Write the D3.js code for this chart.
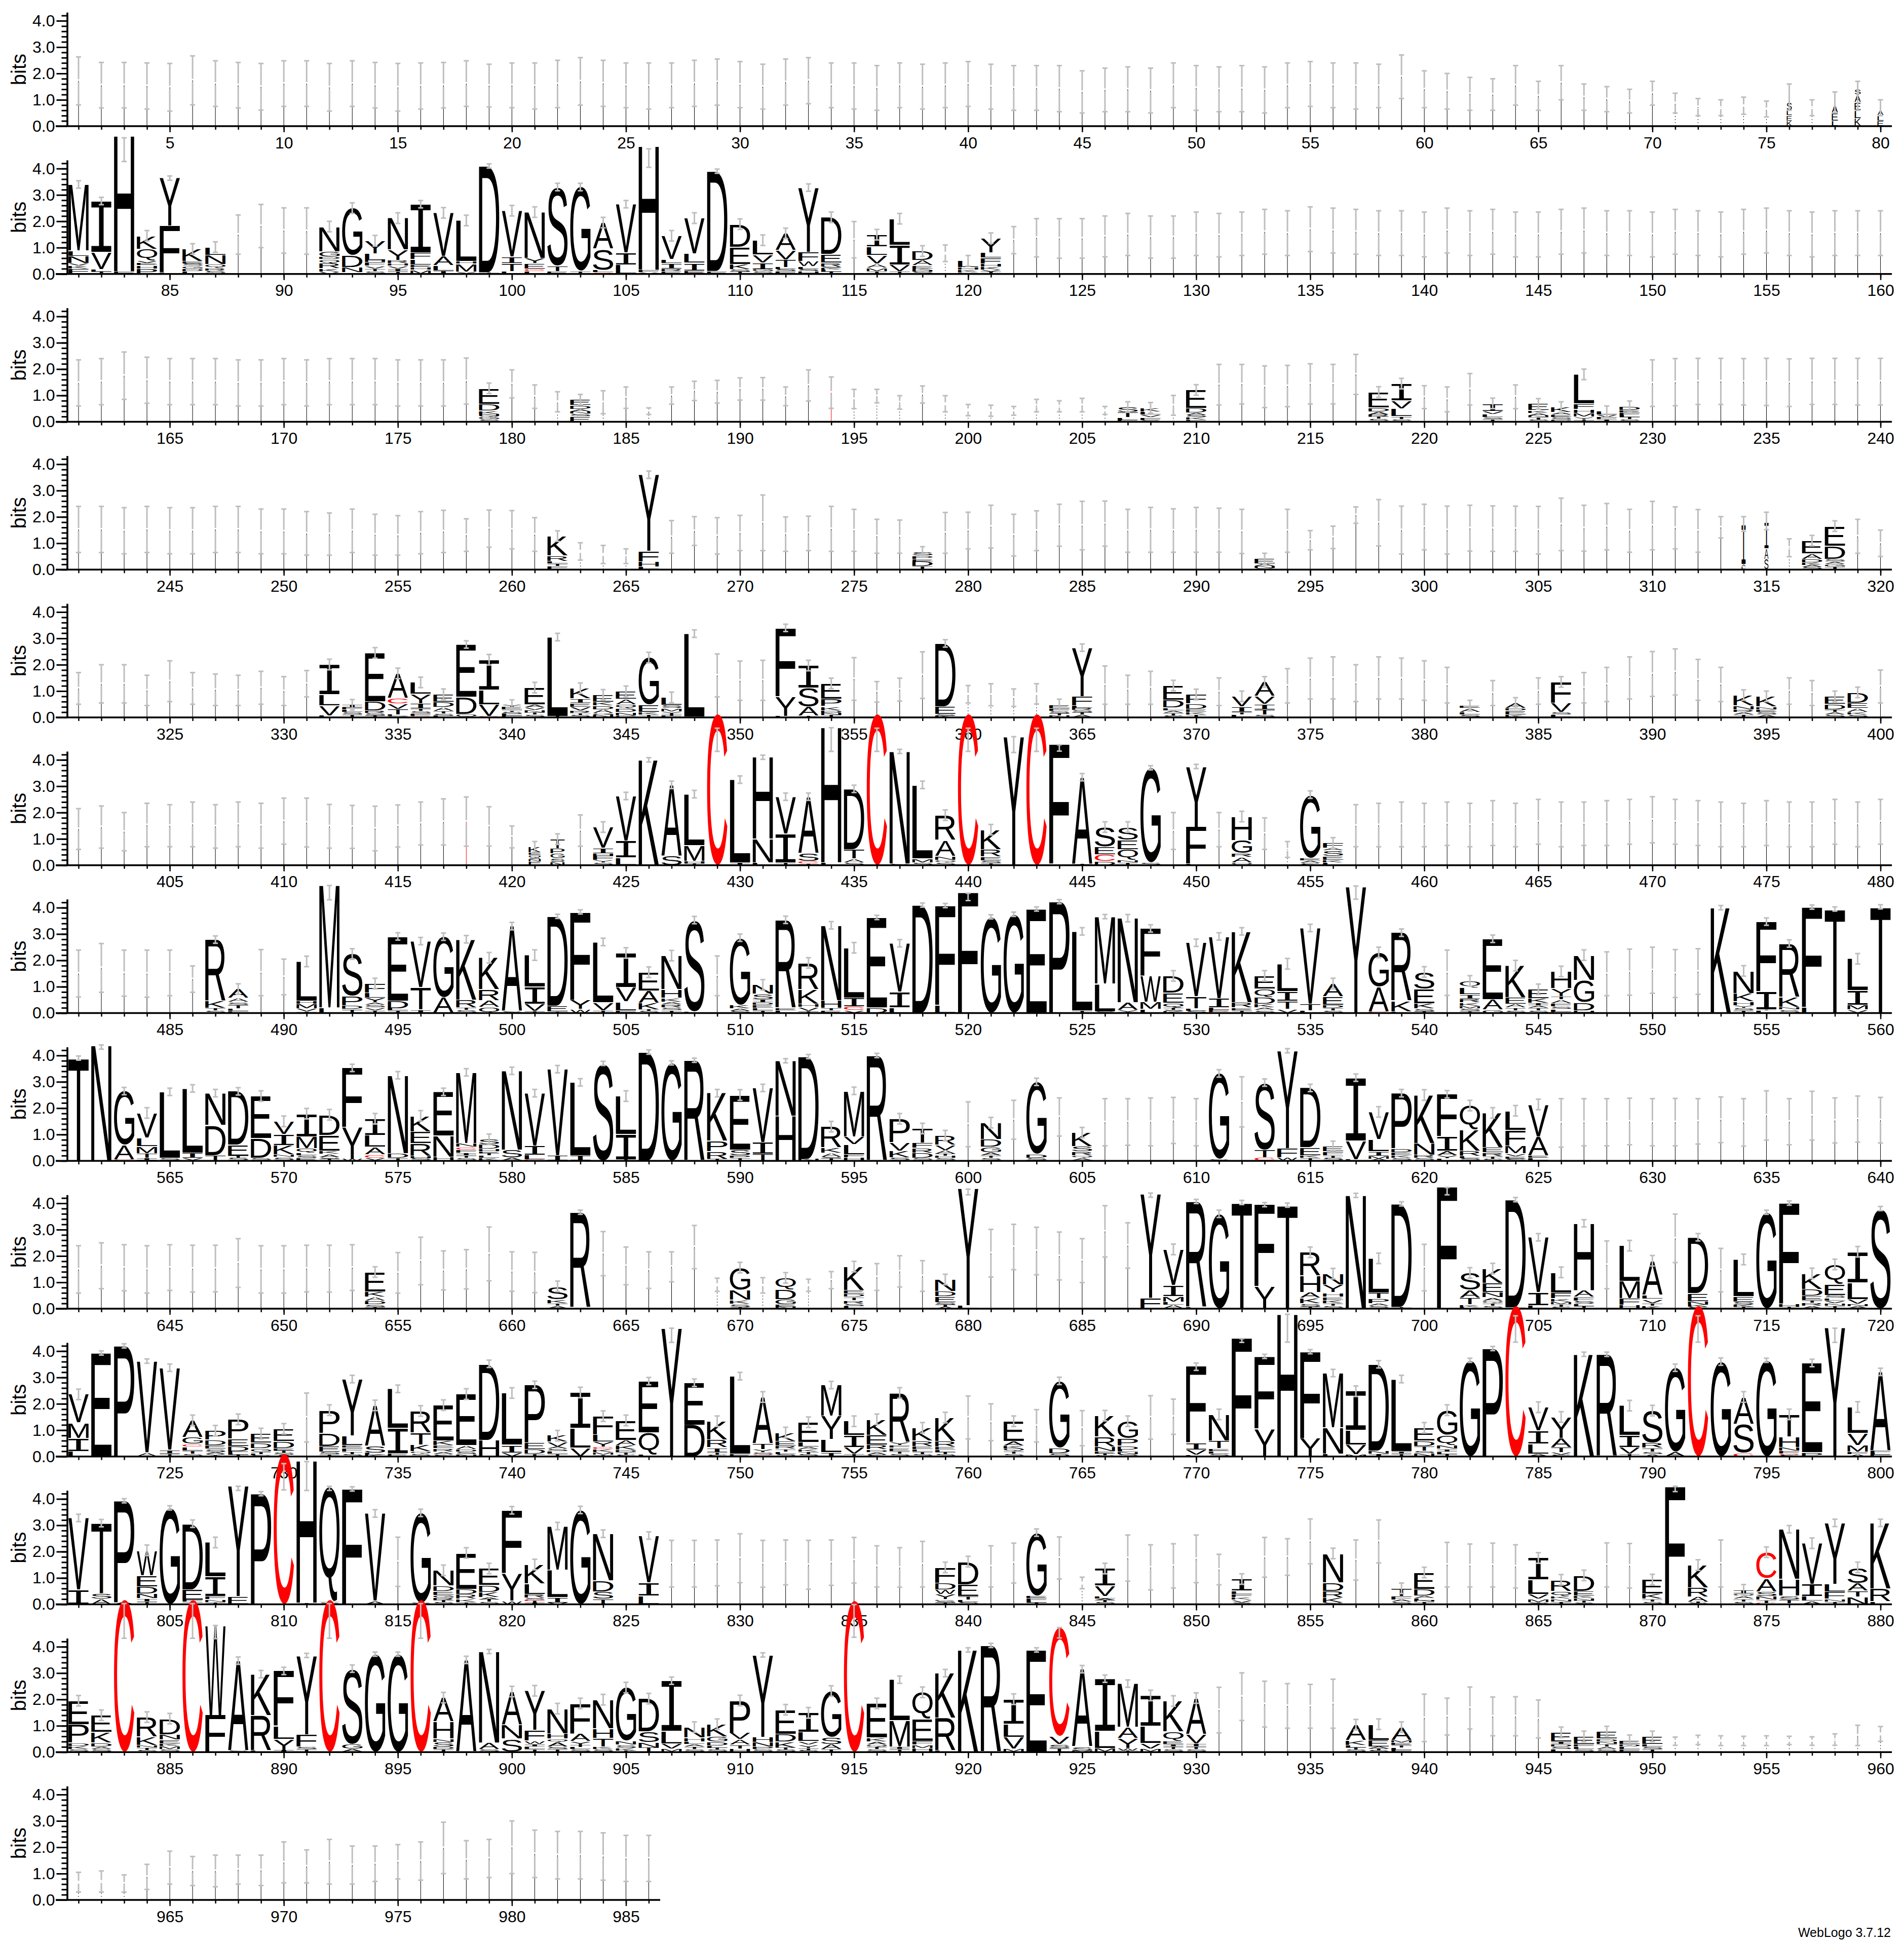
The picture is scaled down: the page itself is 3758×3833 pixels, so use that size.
<!DOCTYPE html>
<html><head><meta charset="utf-8">
<style>html,body{margin:0;padding:0;background:#fff}svg{display:block}</style>
<script src="https://cdn.jsdelivr.net/npm/d3@7/dist/d3.min.js"></script>
</head><body><div id="chart"></div>
<script>
// Row layout: first position of every row of the logo
const rowStarts=[1,81,161,241,321,401,481,561,641,721,801,881,961];
const lastPosition=986;
const yTicksMajor=[0,1,2,3,4];
const yTicksMinor=[0,.2,.4,.6,.8,1,1.2,1.4,1.6,1.8,2,2.2,2.4,2.6,2.8,3,3.2,3.4,3.6,3.8,4,4.2];
const yMaxBits=4.32;
const footer="WebLogo 3.7.12";
const redStems=[418,194];

// Error bars of the (almost) empty columns: position:top:bottom, in bits
const barsRow1="1:2.63:.81 2:2.42:.69 3:2.42:.69 4:2.4:.65 5:2.38:.57 6:2.67:.81 7:2.48:.75 8:2.42:.69 9:2.38:.61 10:2.48:.75 11:2.48:.75 12:2.38:.57 13:2.48:.75 14:2.42:.69 15:2.38:.57 16:2.4:.65 17:2.42:.69 18:2.48:.75 19:2.35:.73 20:2.4:.7 21:2.4:.65 22:2.5:.7 23:2.6:.8 24:2.5:.75 25:2.4:.7 26:2.4:.65 27:2.4:.7 28:2.5:.75 29:2.55:.8 30:2.45:.7 31:2.35:.65 32:2.55:.8 33:2.6:.85 34:2.4:.7 35:2.4:.65 36:2.3:.6 37:2.4:.7 38:2.35:.65 39:2.4:.7 40:2.45:.75 41:2.35:.65 42:2.3:.6 43:2.3:.6 44:2.3:.55 45:2.1:.5 46:2.2:.55 47:2.25:.55 48:2.2:.5 49:2.4:.7 50:2.3:.6 51:2.25:.55 52:2.3:.55 53:2.25:.5 54:2.4:.7 55:2.45:.75 56:2.4:.7 57:2.4:.65 58:2.35:.7 59:2.7:1.05 60:2.1:.7 61:2:.65 62:1.85:.6 63:1.8:.6 64:2.3:.8 65:1.7:.6 66:2.3:1 67:1.6:.6 68:1.5:.55 69:1.4:.5 70:1.7:.8 71:1.25:.5 72:1.05:.4 73:1:.4 74:1.1:.45 75:.95:.35 77:1:.4";
const barsRow2="88:2.24:.75 89:2.64:1 90:2.51:.79 91:2.51:.75 115:1.99:.61 119:1.1:.47 122:1.8:.77 123:2.1:.65 124:2.1:.6 125:2.1:.6 126:2.2:.65 127:2.3:.7 128:2.2:.6 129:2.2:.6 130:2.35:.7 131:2.3:.65 132:2.35:.7 133:2.45:.75 134:2.4:.7 135:2.55:.85 136:2.5:.8 137:2.45:.75 138:2.4:.7 139:2.4:.7 140:2.35:.65 141:2.5:.8 142:2.4:.7 143:2.45:.75 144:2.35:.65 145:2.35:.65 146:2.45:.75 147:2.5:.8 148:2.4:.7 149:2.4:.7 150:2.35:.65 151:2.45:.75 152:2.4:.7 153:2.35:.65 154:2.45:.75 155:2.5:.8 156:2.4:.7 157:2.35:.65 158:2.4:.7 159:2.4:.7 160:2.4:.7";
const barsRow3="161:2.35:.6 162:2.4:.65 163:2.65:.85 164:2.45:.7 165:2.4:.65 166:2.4:.65 167:2.4:.65 168:2.35:.6 169:2.35:.6 170:2.4:.65 171:2.35:.6 172:2.4:.65 173:2.4:.65 174:2.4:.65 175:2.35:.6 176:2.35:.6 177:2.35:.6 178:2.42:.67 180:1.97:.91 181:1.4:.51 182:1.14:.38 184:1.18:.31 185:1.32:.51 186:.53:.28 187:1.32:.67 188:1.54:.81 189:1.57:.71 190:1.67:.82 191:1.68:.82 192:1.32:.61 193:1.97:.79 194:1.7:.51 195:1.23:.5 196:1.23:.72 197:.99:.48 198:1.36:.71 199:.99:.38 200:.66:.23 201:.63:.21 202:.58:.25 203:.85:.38 204:.8:.38 205:.89:.38 206:.58:.28 209:1:.25 211:2.18:.64 212:2.18:.68 213:2.12:.54 214:2.14:.57 215:2.2:.68 216:2.18:.68 217:2.56:1.04 220:1.37:.5 221:1.32:.38 222:1.83:.64 224:1.4:.5 230:2.35:.58 231:2.4:.61 232:2.41:.66 233:2.41:.66 234:2.4:.64 235:2.41:.62 236:2.39:.58 237:2.41:.66 238:2.41:.66 239:2.41:.64 240:2.41:.64";
const barsRow4="241:2.4:.65 242:2.4:.65 243:2.35:.6 244:2.4:.65 245:2.35:.6 246:2.35:.6 247:2.4:.65 248:2.4:.65 249:2.3:.6 250:2.3:.6 251:2.2:.55 252:2.15:.55 253:2.3:.65 254:2.1:.55 255:2.05:.55 256:2.2:.6 257:2.25:.65 258:1.93:.69 259:2.26:.85 260:2.24:.79 261:1.97:.69 263:1.02:.36 264:.92:.23 265:.79:.23 267:1.86:.62 268:2.01:.92 269:1.97:.59 270:2.06:.72 271:2.83:.72 272:2:.69 273:2.03:.72 274:2.4:.69 275:2.29:.69 276:1.91:.62 277:1.88:.62 279:2.17:.62 280:2.18:.79 281:2.44:.82 282:2.1:.52 283:2.23:.72 284:2.48:.89 285:2.59:.75 286:2.6:.89 287:2.29:.66 288:2.36:.66 289:2.31:.66 290:2.36:.66 291:2.33:.66 292:2.29:.61 294:2.29:.66 295:1.48:.75 296:1.65:.8 297:2.38:1.76 298:2.66:.9 299:2.41:.59 300:2.48:.75 301:2.41:.59 302:2.44:.7 303:2.42:.69 304:2.41:.69 305:2.4:.59 306:2.71:.72 307:2.44:.7 308:2.51:.75 309:2.29:.66 310:2.59:.75 311:2.38:.79 312:2.28:.66 313:2.01:1.2 316:1.17:.49 319:1.91:.62 320:1.5:.5";
const barsRow5="321:1.7:.5 322:2:.55 323:2:.55 324:1.6:.45 325:2.15:.6 326:1.7:.5 327:1.65:.45 328:1.6:.45 329:1.75:.5 330:1.55:.45 331:1.78:.78 349:2.41:.78 350:2.14:.65 351:2.17:.65 355:2.27:.65 356:1.36:.58 357:1.49:.62 358:2.49:.72 360:1.21:.55 361:1.28:.44 362:1.08:.42 363:1.28:.51 366:1.95:.5 367:1.6:.5 368:1.75:.5 371:1.5:.45 374:1.85:.55 375:2.25:.7 376:2.3:.7 377:2:.6 378:2.3:.7 379:2.25:.7 380:2.15:.65 381:1.9:.55 383:1.4:.45 385:1.5:.5 387:1.7:.55 388:1.9:.6 389:2.3:.7 390:2.5:.8 391:2.6:.85 392:2.2:.65 393:1.9:.6 396:1.5:.5 397:1.4:.45 400:1.8:.55";
const barsRow6="401:2.15:.6 402:2.25:.65 403:2:.55 404:2.35:.7 405:2.3:.7 406:2.4:.7 407:2.3:.65 408:2.4:.7 409:2.35:.65 410:2.55:.8 411:2.55:.69 412:2.31:.65 413:2.27:.64 414:2.24:.55 415:2.29:.69 416:2.4:.77 417:2.52:.77 418:2.59:.72 419:2.22:.73 420:1.49:.66 423:1.91:.72 449:2:.6 451:2:.7 453:1.8:.6 454:.9:.3 457:2.3:.7 458:2.35:.7 459:2.4:.7 460:2.35:.7 461:2.4:.75 462:2.35:.7 463:2.45:.75 464:2.35:.7 465:2.5:.8 466:2.4:.7 467:2.4:.75 468:2.45:.75 469:2.5:.8 470:2.6:.85 471:2.5:.8 472:2.45:.75 473:2.4:.7 474:2.35:.7 475:2.45:.75 476:2.4:.7 477:2.4:.7 478:2.5:.8 479:2.4:.7 480:2.5:.8";
const barsRow7="481:2.39:.61 482:2.64:.79 483:2.39:.64 484:2.39:.6 485:2.39:.66 486:1.79:.79 489:2.41:.66 490:2.05:.69 509:2.17:.66 541:2.39:.67 548:2.32:.66 549:2.43:.68 550:2.5:.75 551:2.41:.59 552:2.44:.71";
const barsRow8="600:2.24:.54 602:2.3:.82 604:2.39:.94 606:2.36:.57 607:2.36:.59 608:2.39:.57 609:2.41:.66 610:2.36:.57 612:3.19:1.29 626:2.36:.52 627:2.36:.57 628:2.36:.57 629:2.38:.61 630:2.36:.57 631:2.37:.57 632:2.36:.64 633:2.43:.69 634:2.36:.56 635:2.66:.79 636:2.36:.61 637:2.64:.79 638:2.39:.68 639:2.46:.71 640:2.41:.68";
const barsRow9="641:2.39:.59 642:2.5:.76 643:2.43:.68 644:2.39:.59 645:2.43:.69 646:2.41:.63 647:2.41:.64 648:2.66:.81 649:2.39:.59 650:2.39:.59 651:2.41:.64 652:2.41:.63 653:2.43:.69 655:2.13:.59 656:2.71:.91 657:2.19:.71 658:2.24:.75 659:3.1:1.06 660:2.16:.66 661:2.14:.61 664:2.93:1.25 665:2.34:.91 666:2.16:.77 667:2.16:1.02 668:3.16:1.52 669:1.16:.66 671:1.18:.59 673:1.12:.66 674:1.41:.76 676:1.71:.69 677:2.01:.82 678:1.82:.66 681:3.01:1.2 682:3.2:1.48 683:3.09:1.29 684:2.91:1.09 685:2.66:.99 686:3.91:1.96 687:3.26:1.54 700:2.44:.68 708:2.57:.76 711:3.59:1.75 713:2.29:.64";
const barsRow10="731:2.41:.55 760:2.3:.67 761:2:.6 763:1.78:.55 765:1.74:.41 768:2.31:.66 769:2.18:.84";
const barsRow11="815:2.55:.68 827:2.43:.66 828:2.43:.66 829:2.44:.7 830:2.68:.82 831:2.43:.65 832:2.44:.74 833:2.43:.57 834:2.44:.72 835:2.54:.81 836:2.22:.66 837:2.15:.65 838:2.39:.66 841:2.22:.66 842:2.32:.81 844:2.56:.96 845:1.03:.59 847:2.63:.88 848:2.26:.55 849:2.3:.62 850:2.63:.82 851:1.9:.74 853:2.54:1.03 854:2.49:1.1 855:3.24:1.54 857:2.44:.92 858:3.2:1.57 861:2.35:.66 862:2.29:.66 863:2.32:.66 864:2.26:.62 868:2.33:.66 869:2.31:.62 873:2.44:.66";
const barsRow12="931:2.46:.73 932:3.01:1.2 933:2.69:.95 934:2.6:.91 935:2.57:.91 936:2.77:.91 940:2.2:.4 941:2.05:.65 942:2.47:.88 943:2.09:.62 944:2.1:.62 945:1.98:.54 951:.57:.26 952:.64:.29 953:.62:.25 954:.6:.25 955:.62:.25 956:.6:.29 957:.58:.26 958:.69:.26 959:1.02:.25 960:.97:.41";
const barsRow13="961:1.05:.3 962:1.1:.3 963:.95:.3 964:1.35:.4 965:1.85:.6 966:1.65:.55 967:1.7:.5 968:1.7:.6 969:1.7:.55 970:2.2:.65 971:1.9:.65 972:2.3:.6 973:2.05:.6 974:2.05:.7 975:2.1:.8 976:2.2:.75 977:2.95:1 978:2.25:.8 979:2.3:.85 980:3:1 981:2.65:.85 982:2.6:.8 983:2.6:.8 984:2.55:.75 985:2.45:.7 986:2.45:.7";

// Letter stacks, bottom to top: position, letter+bits, optional w(width factor), optional ~errCentre,errHalf
const stacksRow1=["76 K.2 E.2 L.2 S.3 w.25 ~1.1,.5","78 L.2 E.3 A.3 w.3 ~.9,.4","79 K.3 L.3 E.3 A.3 S.2 w.3 ~1.15,.55","80 E.2 L.2 A.2 w.3 ~.7,.3"];
const stacksRow2=["81 F.2 K.12 V.08 N.28 L.2 M2.52","82 T.09 L.08 V.65 I1.95","83 F.09 H5.15 ~4.72,.45","84 P.2 H.12 E.1 V.08 Q.45 K.5","85 L.05 F1.77 Y1.82","86 L.1 D.1 G.1 S.1 E.08 K.47","87 S.12 R.1 Q.15 N.35 L.3","92 V.08 K.12 R.2 Q.15 D.1 G.2 N.95","93 I.05 N.2 D.45 G1.8","94 S.1 T.1 V.1 F.15 H.06 L.25 Y.5","95 T.1 I.1 V.1 H.1 R.12 Y.4 N1.2","96 M.15 H.1 E.1 L.2 F.25 I1.85","97 I.12 L.2 A.35 V1.65","98 Y.08 M.3 H.1 L1.55","99 T.05 D4.05","100 L.1 T.3 I.25 V1.75","101 L.1 C.1 E.2 Y.2 N1.75","102 E.1 T.2 S3","103 T.1 G3.2","104 C.05 L.1 S.8 A1","105 L.35 I.45 V1.85","106 Y.05 F.1 H4.7 ~4.4,.35","107 E.1 R.1 I.2 L.15 V.9","108 C.04 E.08 I.3 L.35 V1.35","109 E.1 D3.8","110 T.1 S.07 K.2 E.65 D.87","111 S.1 G.08 I.25 V.3 L.55","112 F.1 S.08 L.06 T.3 V.35 A.65","113 H.1 S.08 L.1 W.2 F.35 Y2.45","114 T.1 L.07 K.05 S.05 R.15 E.33 D1.4","116 T.1 M.13 A.15 V.33 L.33 I.45","117 T.1 V.25 I.75 L1","118 S.1 H.05 K.05 E.12 A.2 D.35","120 F.05 K.1 H.1 L.25","121 T.1 V.05 K.12 H.12 F.22 L.2 Y.55"];
const stacksRow3=["179 S.08 G.1 Q.06 N.05 K.13 D.25 E.6","183 E.2 S.1 N.1 A.08 D.14 E.22","207 E.06 L.1 T.2 S.2","208 S.06 F.1 V.1 L.12 K.15","210 F.08 K.08 S.1 A.08 D.17 E.7","218 S.12 T.08 R.06 A.12 D.15 E.6","219 S.1 T.1 L.3 V.3 I.65","223 T.1 S.06 L.12 V.12 I.3","225 S.08 T.1 N.05 A.1 K.1 E.25","226 D.08 S.08 E.1 A.1 K.2","227 T.08 Y.1 M.15 H.15 F.2 L1.12","228 I.1 F.06 V.1 L.14","229 S.1 T.08 L.08 F.08 E.1 D.15"];
const stacksRow4=["262 F.12 T.1 L.1 R.2 K.75","266 L.1 H.2 F.4 Y2.9","278 T.12 D.2 E.08 P.12 S.15","293 S.06 N.06 A.1 E.2","314 L.1 A.1 I1.5 w.2 ~1.73,.28","315 S.4 A.4 I1 w.2 ~1.85,.33","317 S.1 A.08 K.07 D.15 A.2 E.5","318 T.1 G.1 A.1 S.1 D.5 E.75"];
const stacksRow5=["332 L.06 V.38 L.42 I1.15","333 T.1 S.1 L.1 F.06 I.12","334 T.08 S.07 R.1 D.35 E1.85","335 G.05 L.05 T.22 V.2 C.2 A.95","336 C.05 F.08 S.1 T.1 I.2 Y.35 L.45","337 L.06 S.07 T.1 A.15 D.2 E.3","338 Q.12 D.65 E2","339 C.04 V.45 L.55 I1.15","340 F.07 L.07 S.07 T.08 E.12 Y.06","341 S.1 T.1 N.08 V.08 A.12 E.65","342 T.05 L3","343 S.1 T.05 R.1 V.14 E.15 I.17 K.4","344 N.1 G.05 A.14 D.15 K.15 E.27","345 G.07 N.13 D.14 Q.15 A.2 E.3","346 T.1 K.1 E.27 G1.8","347 F.06 T.06 Y.1 M.12 S.12 L.3","348 I.03 L3.15","352 L.05 Y.75 F2.6","353 T.05 A.35 S.72 I.85","354 T.1 N.06 D.1 K.16 P.27 E.6","359 K.06 S.05 E.3 D2.4","364 N.08 T.06 S.1 F.1 E.15","365 A.1 T.1 S.08 R.07 L.1 F.35 Y1.85","369 S.08 T.08 A.1 L.1 D.3 E.55","370 T.1 K.1 E.12 D.2 F.35","372 L.1 T.1 I.2 V.4","373 S.1 T.2 I.2 V.3 A.55","382 S.1 L.1 A.15 E.1","384 K.1 E.15 D.1 A.2","386 L.1 S.1 V.35 F.8","394 T.1 A.1 R.1 N.15 K.4","395 A.1 S.1 E.1 N.1 K.4","398 S.1 A.1 T.1 D.2 E.3","399 S.1 K.1 A.15 E.2 D.4"];
const stacksRow6=["421 E.15 N.08 S.06 Q.09 E.1 K.22 w.6","422 N.12 S.15 G.17 P.2 T.35 w.7","424 S.1 Y.1 F.17 H.08 I.2 V.8","425 L.28 I.65 V1.7","426 K4","427 S.35 A2.7","428 T.08 H.07 M.6 L1.95","429 C5.75 ~4.76,.44","430 I.1 L3.15","431 L.1 N.9 H3.1","432 T.1 I1.1 V1.4","433 T.05 C.1 S.3 A2.15","434 L.1 H5.13 ~4.77,.45","435 S.1 A.15 T.35 D2.3","436 C5.75 ~4.76,.44","437 S.05 N4.27","438 S.1 M.15 L2.8","439 S.1 Q.1 N.15 A.6 R.95","440 C5.75 ~4.76,.44","441 T.08 S.1 E.15 R.27 K.75","442 Y4.88 ~4.58,.3","443 C5.75 ~4.76,.44","444 I.05 F4.55 ~4.45,.12","445 T.04 A3.3","446 D.15 C.25 E.3 S.75","447 T.1 N.1 Q.4 E.35 S.5","448 S.1 G3.6","450 L.05 F1.4 Y2.3","452 Q.1 A.2 R.15 G.5 H.9","455 S.08 A.1 E.1 G2.4","456 L.1 K.1 E.15 S.2 A.1 F.2"];
const stacksRow7=["487 S.1 T.08 K.27 R2.34","488 F.08 L.08 T.15 S.1 A.15 A.35","491 T.05 V.12 M.17 H.12 L1.5","492 L.2 M4.65 ~4.57,.27","493 T.14 D.15 P.35 S1.6","494 T.1 V.1 S.1 A.1 Y.17 L.2 F.35","495 T.1 L.06 D.3 E2.45","496 I.13 T.85 V1.75","497 A.6 G2.3","498 S.12 T.08 R.3 K2.3","499 Q.22 A.25 R.43 K1.2","500 S.05 A3.25","501 T.08 V.27 I.65 L1.2","502 T.05 E.22 D3.4","503 W.15 Y.35 F3.34","504 T.1 V.3 L2.3","505 F.1 L.33 V.55 I1.3","506 S.08 T.05 K.24 A.48 E.7","507 T.1 S.1 R.12 A.1 K.15 H.33 N1.28","508 L.05 S3.48","510 S.08 A.08 K.15 G2.55","511 T.1 L.08 E.12 D.1 I.12 S.2 N.35","512 L.1 E.08 R3.36","513 T.08 V.14 H.13 K.55 R1","514 E.1 T.08 H.3 N2.85","515 V.1 C.15 I.33 L1.9","516 D.2 E3.43","517 L.2 I.6 V1.85","518 D4.1","519 L.3 F3.78","520 F4.58 ~4.41,.14","521 G3.65","522 G3.75","523 E3.95","524 P4.23","525 T.1 L3","526 S.06 L1.05 M2.55","527 T.05 V.05 A.3 N3.2","528 L.14 M.27 W1 F1.8","529 K.06 S.06 T.08 Q.18 E.38 D.65","530 S.07 L.1 T.45 V2.05","531 C.05 F.08 L.08 I.35 V2.35","532 T.1 E.1 R.2 K2.7","533 S.1 A.1 K.14 D.25 Q.32 E.5","534 V.15 T.3 I.37 L1.05","535 L.1 T.25 V2.88","536 S.1 T.08 D.12 E.32 A.5","537 Y4.8 ~4.57,.25","538 C.05 A.95 G1.3","539 L.05 K.4 R2.6","540 T.06 S.1 K.2 E.55 S.65","542 T.07 S.1 M.1 K.12 R.15 I.17 L.25 Q.26","543 G.12 A.4 E2.3","544 S.1 T.1 A.15 E.25 K1.2","545 S.1 T.08 A.1 I.1 K.17 E.35","546 C.04 L.1 S.1 F.12 A.15 T.12 Y.3 H.65","547 H.1 D.3 G.85 N.95","553 K4","554 T.1 S.08 Y.1 H.15 K.32 N.85","555 L.1 T.02 I.7 F2.65","556 S.12 N.1 K.37 R2.05","557 L.22 F3.8","558 T3.95","559 V.13 M.18 I.55 L1.2","560 T4.03"];
const stacksRow8=["561 T3.9","562 N4.38 ~4.32,.08","563 C.05 A.55 G2.05","564 I.1 T.18 M.26 L.33 V.95","565 S.1 L2.52","566 V.1 I.2 L2.45","567 T.2 D1.15 N1.22","568 S.12 T.06 E.42 D2.04","569 S.1 D.75 E1.61","570 S.14 N.1 K.35 I.41 V.5","571 E.1 S.1 L.1 Q.17 M.45 I.87","572 T.07 S.05 A.13 K.12 E.6 D.78","573 W.07 Y1.2 F2.26","574 V.1 C.14 A.28 L.45 I.63","575 T.1 D.18 N2.97","576 S.1 H.08 R.48 E.45 K.6","577 H.15 N.8 E1.67","578 S.1 T.1 I.1 F.12 C.1 N.14 M2.7","579 K.1 L.1 T.1 E.05 H.1 D.17 S.2","580 A.12 S.3 N3","581 C.04 L.18 I.35 V2","582 I.2 V3.28","583 I.2 L2.78","584 S3.7","585 T.05 I.95 L1.46","586 D4.13","587 G3.72","588 R3.82","589 T.07 R.28 P.4 K1.82","590 T.1 P.1 S.22 E2.08","591 T.25 I.45 V2.07","592 H1.7 N2.1","593 N.06 D3.9","594 T.1 S.05 A.15 K.2 R.8","595 H.12 F.12 L.38 V.3 M1.74","596 R4","597 S.12 K.25 V.33 P.9","598 S.1 D.2 R.18 F.2 T.55","599 S.1 H.1 T.06 A.14 V.2 R.36","601 S.1 T.1 A.12 G.2 D.3 N.63","603 S.1 D.16 G2.74","605 A.1 Q.1 R.15 S.2 K.52","611 S.05 G3.27","613 C.12 T.3 S2.55","614 W.12 F.35 Y3.71","615 T.1 K.1 E.3 D2.27","616 S.12 T.08 F.15 E.2","617 L.05 V.7 I2.41","618 A.07 M.12 I.17 L.45 V1.05","619 S.1 K.1 E.12 D.15 P2.1","620 S.1 R.12 N.45 K1.83","621 L.08 Y.12 A.18 I.55 F1.6","622 S.1 L.08 R.2 K.8 Q.92","623 S.08 T.08 R.15 E.2 K1.31","624 S.07 E.1 V.1 M.3 F.6 L.73","625 L.1 E.1 A.72 V1.22"];
const stacksRow9=["654 T.05 S.1 D.15 A.14 K.2 E.75","662 A.1 T.1 K.15 S.5","663 L.03 R3.63","670 T.05 S.13 K.15 N.38 G.85","672 N.08 E.07 G.2 D.37 Q.45","675 L.1 S.08 R.13 T.13 D.12 E.14 K.9","679 A.07 T.07 S.1 E.22 D.2 N.45","680 L.12 Y4.45 ~4.43,.11","688 F.4 Y3.96 ~4.31,.08","689 A.14 L.12 M.2 I.42 V1.37","690 L.04 R4.03","691 G3.6","692 T4.03","693 Y.85 F3.1","694 T3.93","695 T.06 S.14 K.2 A.22 H.62 R.9","696 S.1 T.1 K.12 E.13 H.16 Y.3 N.42","697 N4.3","698 S.1 A.1 P.18 T.22 L1.31","699 T.05 D3.93","701 F4.63 ~4.46,.14","702 L.05 K.1 T.25 A.3 S.66","703 S.1 T.1 Q.1 A.12 N.2 E.35 K.55","704 T.04 D4.1","705 L.12 I.5 V2.09","706 S.08 T.08 M.1 K.12 F.22 L.78","707 T.1 L.08 S.12 F.15 A.24 H2.55","709 H.14 F.24 M.66 L1.35","710 K.1 T.1 V.16 L.16 A1.3","712 S.08 K.06 N.14 E.3 D2.13","714 T.07 K.07 S.12 E.2 L1.41","715 G3.66","716 T.06 H.12 F3.83","717 A.1 R.12 T.1 E.17 D.25 K.6","718 T.1 N.1 V.1 L.1 S.1 E.43 Q.75","719 A.1 N.08 V.17 L.63 I1.18","720 S3.8"];
const stacksRow10=["721 L.2 I.5 M.58 V1.08","722 E3.93","723 P4.2","724 A.15 V3.47","725 T.1 I.15 V3.12","726 S.1 T.12 L.14 C.11 G.25 A.65","727 Y.1 A.06 S.12 E.15 D.2 P.35","728 T.07 L.07 F.05 D.2 E.28 P.74","729 S.05 L.05 T.07 G.14 D.2 E.36","730 A.07 S.07 T.07 E.1 D.26 E.48","732 T.07 S.1 E.22 D.5 P.87","733 S.1 T.08 F.15 E.1 L.35 Y2.16","734 K.07 L.07 S.25 A1.55","735 E.12 I.95 L1.5","736 S.1 Q.1 K.25 T.45 R.83","737 S.07 A.1 R.13 E.13 K.17 E1.35","738 N.07 S.1 D.1 A.15 E1.95","739 H.62 D2.9","740 V.14 I.3 L1.97","741 T.1 D.17 E.25 P2.2","742 T.1 L.1 S.1 A.07 V.18 K.24","743 V.32 L.75 I1.36","744 T.05 M.1 K.13 C.08 Y.2 L.27 F.7","745 S.08 T.07 D.1 K.17 A.2 E.75","746 L.06 Q.85 E1.95","747 Y4.87 ~4.6,.27","748 D1.2 E1.6","749 S.08 T.08 I.18 R.3 K.7","750 E.1 L2.95","751 C.05 S.1 Y.12 T.22 A1.77","752 S.1 L.08 T.1 R.13 E.17 K.33","753 S.1 T.08 K.08 A.1 L.17 E.77","754 I.15 L.5 Y.88 M1.18","755 T.1 V.25 I.45 L.54","756 S.08 A.08 D.1 R.18 E.37 K.6","757 S.1 T.1 E.12 F.1 Y.12 R1.87","758 S.1 T.08 L.08 E.13 R.2 K.5","759 S.1 T.07 L.07 E.12 R.22 K.9","762 S.1 T.1 Q.08 K.12 A.18 E.76","764 S.12 D.2 G2.55","766 S.05 T.05 E.1 N.17 R.38 K.8","767 S.1 N.08 L.07 D.15 P.28 G.66","770 L.05 V.2 I.26 F2.9","771 S.1 L.1 E.1 T.3 N1","772 F4.5 ~4.4,.07","773 Y1.05 F2.75","774 H5.4 ~4.87,.53","775 Y.7 F3.28","776 L.1 N1 M2.07","777 M.07 V.37 L.55 I1.49","778 I.1 N.12 D3.28","779 T.1 I.1 L2.74","780 N.12 S.1 T.17 D.2 E.5","781 T.1 L.08 I.1 N.15 Q.38 G.95","782 G3.65","783 P4.1","784 C5.73 ~4.84,.5","785 A.1 L.38 I.5 V.89","786 S.07 V.08 T.2 A.35 Y.8","787 K3.88","788 R3.88","789 T.1 V.25 I.45 L1.13","790 A.07 S.1 T.15 R.2 S1.22","791 A.17 G3.2","792 C5.73 ~4.84,.5","793 G3.6","794 C.13 S1.1 A1.03","795 G3.65","796 S.08 C.05 F.08 N.14 H.4 T.85","797 P.15 E3.4","798 Y4.9 ~4.6,.27","799 A.08 F.1 M.25 V.45 L1","800 E.07 L.07 F.07 A3"];
const stacksRow11=["801 I.55 V2.73","802 A.2 S.2 T2.68","803 A.06 P3.87","804 T.1 I.12 N.18 D.27 E.43 W.95","805 G3.66","806 T.1 F.06 E.4 D2.5","807 T.08 N.1 F.12 I.75 L1.3","808 E.3 Y4.2 ~4.4,.08","809 P4.2","810 C5.73 ~4.84,.5","811 T.05 H5.4 ~4.87,.55","812 S.05 T.05 Q4.36 ~4.4,.08","813 F4.38","814 A.12 V3.33","816 S.05 G3.42","817 S.08 T.07 R.1 G.1 E.15 D.2 N.59","818 T.08 K.13 R.17 D.2 E1.37","819 S.1 T.09 A.07 K.2 D.26 E.64","820 W.12 Y1.05 F2.4","821 I.06 T.06 C.06 S.06 R.14 L.4 K.73","822 V.06 I.2 L1.05 M1.66","823 G3.58","824 T.2 S.28 D.42 N1.78","826 L.33 I.5 V1.78","839 T.06 S.06 A.03 K.03 Y.2 W.17 D.25 F.6","840 S.08 L.08 T.14 E.45 D.87","843 T.07 L.07 F.08 E.1 G2.4","846 S.08 T.08 A.04 L.1 V.4 I.66","852 S.06 V.1 K.1 F.12 L.13 I.45","856 S.05 K.2 R.25 D.33 N1.1","859 S.1 A.06 F.15 T.3","860 T.1 N.05 L.07 A.1 D.26 E.63","865 S.05 T.03 M.12 V.18 L.55 I.83","866 T.1 N.1 K.1 Q.2 R.43","867 S.06 T.06 N.1 K.1 E.18 D.6","870 S.1 T.1 K.2 E.54","871 F4.47 ~4.38,.1","872 S.04 T.04 A.2 R.35 K.86","874 S.1 T.1 A.1 Q.1 I.15","875 C.04 T.12 N.14 S.18 A.5 C1","876 C.03 T.14 S.16 H.62 N1.9","877 A.12 L.18 I.47 V1.55","878 T.1 N.1 F.27 L.3 Y2.32","879 N.28 T.23 A.29 S.6","880 L.1 R.5 K2.49"];
const stacksRow12=["881 S.1 K.12 D.13 P.7 E.9","882 S.1 A.1 D.15 K.4 E.65","883 C5.8 ~4.98,.66","884 S.08 T.08 N.1 K.33 R.74","885 S.1 M.12 K.1 E.15 N.2 D.6","886 C5.8 ~4.98,.66","887 F1.4 W3.41 ~4.56,.25","888 S.05 A3.42","889 L.05 R1.35 K1.56","890 I.06 Y.42 L.5 F2.1","891 T.1 S.1 F.47 Y3","892 C5.8 ~4.98,.66","893 A.13 G.17 S2.87","894 G3.72","895 G3.72","896 C5.8 ~4.98,.66","897 T.1 D.1 S.17 N.13 H.65 A.92","898 A3.5","899 S.1 A.25 N3.47","900 S.5 N.52 A1.28","901 T.1 L.1 I.1 W.13 F.4 Y1.5","902 T.1 S.1 A.17 Q.13 H.2 N.95","903 S.1 L.1 T.06 Y.15 A.3 F1.14","904 S.1 K.1 T.33 H.36 N1.1","905 T.05 K.1 S.12 N.15 G2.03","906 T.17 N.2 S.4 D1.26","907 M.12 V.2 L.47 I1.92","908 S.1 T.1 A.1 L.1 H.15 N.4","909 S.1 T.06 L.08 D.15 G.2 K.47","910 H.12 T.16 A.2 V.24 P1.24","911 S.1 P.1 N.17 H.2 Y3.12","912 S.1 T.07 K.22 D.3 E.92","913 S.07 T.08 Y.13 V.13 L.35 I.73","914 T.1 A.2 S.26 G1.76","915 C5.76 ~4.98,.62","916 S.1 T.1 Q.07 A.13 K.15 E1.3","917 T.1 I.1 M1 L1.55","918 H.14 M.13 F.15 E.85 Q1","919 L.05 R1.25 K1.7","920 K3.88","921 R4.05","922 M.12 V.45 L.5 I.94","923 E3.88","924 T.15 S.15 V.3 C4.14 ~4.53,.2","925 M.05 S.15 A2.95","926 M.14 L.65 I2","927 T.05 W.1 Y.38 A.42 M1.65","928 M.13 V.2 L.65 I1.17","929 S.1 T.1 I.1 E.12 Q.35 K1.17","930 S.1 T.1 I.12 V.35 A1.38","937 S.1 T.08 L.08 K.18 A.6","938 S.07 T.07 A.07 E.25 L.6","939 F.07 L.1 T.08 E.1 M.1 A.5","946 L.1 S.1 D.1 I.1 E.35","947 S.1 L.1 F.1 E.3","948 S.1 A.1 T.1 N.1 D.1 E.28","949 F.1 L.1 D.1 E.15","950 T.1 S.1 L.1 E.3"];

const allBars=[barsRow1,barsRow2,barsRow3,barsRow4,barsRow5,barsRow6,barsRow7,barsRow8,barsRow9,barsRow10,barsRow11,barsRow12,barsRow13];
const allStacks=[stacksRow1,stacksRow2,stacksRow3,stacksRow4,stacksRow5,stacksRow6,stacksRow7,stacksRow8,stacksRow9,stacksRow10,stacksRow11,stacksRow12,[]];

const W=3758,H=3833,FONT="'Liberation Sans',Arial,sans-serif",MONO="'Liberation Mono',monospace";
const svg=d3.select("#chart").append("svg").attr("width",W).attr("height",H).attr("viewBox",[0,0,W,H]);
svg.append("rect").attr("width",W).attr("height",H).attr("fill","#fff");

// ink box of a letter, used to stretch the glyph into its stack box.
// "I" has bars top and bottom in the reference, so it comes from the mono face.
const ctx=document.createElement("canvas").getContext("2d");
const inkCache={};
function ink(c){
  if(!inkCache[c]){
    ctx.font=c==="I"?"400 200px 'Liberation Mono'":"400 200px 'Liberation Sans'";
    const m=ctx.measureText(c);
    inkCache[c]={l:-m.actualBoundingBoxLeft,r:m.actualBoundingBoxRight,t:-m.actualBoundingBoxAscent,b:m.actualBoundingBoxDescent};}
  return inkCache[c];
}
function parseStack(s){
  const parts=s.split(" ");
  const o={pos:+parts[0],letters:[],w:1,err:null};
  parts.slice(1).forEach(t=>{
    if(t[0]==="~"){const a=t.slice(1).split(",");o.err=[+a[0],+a[1]];}
    else if(t[0]==="w"){o.w=+t.slice(1);}
    else o.letters.push({c:t[0],bits:+t.slice(1)});
  });
  return o;
}
const greyBar="#bebebe",rowStep=291.75,base0=249,bitPx=52;
const spacing=45.02,letterW=40,xLeft=132.5;

rowStarts.forEach((start,ri)=>{
  const end=Math.min(start+79,lastPosition);
  const base=base0+ri*rowStep;
  const g=svg.append("g").attr("class","row");
  const x=d3.scaleLinear().domain([start-.5,end+.5]).range([xLeft,xLeft+(end-start+1)*spacing]);
  const y=d3.scaleLinear().domain([0,yMaxBits]).range([base,base-yMaxBits*bitPx]);

  const bars=allBars[ri].split(" ").map(t=>{const a=t.split(":");return {pos:+a[0],hi:+a[1],lo:+a[2]};});
  const stacks=allStacks[ri].map(parseStack);

  // thin columns of the gappy positions
  g.append("g").selectAll("line").data(bars).join("line")
    .attr("x1",d=>x(d.pos)).attr("x2",d=>x(d.pos))
    .attr("y1",y(0)).attr("y2",d=>y((d.hi+d.lo)/2))
    .attr("stroke",d=>redStems.includes(d.pos)?"#f00":"#000").attr("stroke-width",1)
    .attr("stroke-dasharray",d=>d.hi<1.3?"2 4":null);

  // letters
  const lg=g.append("g").attr("font-family",FONT).attr("font-weight",400).attr("font-size",200);
  const errs=bars.map(d=>({pos:d.pos,c:(d.hi+d.lo)/2,h:(d.hi-d.lo)/2,blank:true}));
  stacks.forEach(st=>{
    let acc=0;
    st.letters.forEach(L=>{
      const y0=y(acc),y1=y(acc+L.bits);acc+=L.bits;
      const box=ink(L.c),pad=(y0-y1)>5?.8:0;
      const bw=letterW*st.w,left=x(st.pos)-bw/2;
      const sx=bw/(box.r-box.l),sy=((y0-y1)-2*pad)/(box.b-box.t);
      const t=lg.append("text").text(L.c).attr("fill",L.c==="C"?"#f00":"#000")
        .attr("transform",`translate(${(left-box.l*sx).toFixed(2)},${(y0-pad-box.b*sy).toFixed(2)}) scale(${sx.toFixed(4)},${sy.toFixed(4)})`);
      if(L.c==="I") t.attr("font-family",MONO);
    });
    const h=st.err?st.err[1]:(acc>3.6?.08:acc>2.5?.14:.2);
    errs.push({pos:st.pos,c:st.err?st.err[0]:acc,h,blank:false});
  });

  // error bars: two arms with a small notch at the centre
  const eg=g.append("g").attr("stroke",greyBar).attr("fill","none");
  errs.forEach(e=>{
    const xc=x(e.pos),top=y(e.c+e.h),bot=y(e.c-e.h),mid=y(e.c),gap=e.blank?3:0;
    eg.append("path").attr("stroke-width",3)
      .attr("d",`M${xc},${top}V${mid-gap}M${xc},${mid+gap}V${bot}`);
    eg.append("path").attr("stroke-width",3)
      .attr("d",`M${xc-5},${top}H${xc+5}M${xc-5},${bot}H${xc+5}`);
  });

  // x axis
  const all=d3.range(start,end+1);
  const fives=all.filter(p=>p%5===0);
  const xg=g.append("g").attr("transform",`translate(0,${base})`);
  xg.append("g").call(d3.axisBottom(x).tickValues(all).tickSize(7).tickSizeOuter(0).tickFormat(""));
  xg.append("g").call(d3.axisBottom(x).tickValues(fives).tickSize(12).tickPadding(9).tickSizeOuter(0).tickFormat(d3.format("d")));
  xg.selectAll(".domain").remove();
  xg.selectAll("line").attr("stroke","#000").attr("stroke-width",2.5);
  xg.selectAll("text").attr("font-family",FONT).attr("font-size",32).attr("fill","#000");
  xg.append("path").attr("d",`M110,0H${x.range()[1]}`).attr("stroke","#000").attr("stroke-width",3.4);

  // y axis
  const yg=g.append("g").attr("transform",`translate(${xLeft},0)`);
  yg.append("g").call(d3.axisLeft(y).tickValues(yTicksMinor).tickSize(11).tickSizeOuter(0).tickFormat(""));
  yg.append("g").call(d3.axisLeft(y).tickValues(yTicksMajor).tickSize(21).tickPadding(3).tickSizeOuter(0).tickFormat(d3.format(".1f")));
  yg.selectAll(".domain").attr("stroke","#000").attr("stroke-width",3.2);
  yg.selectAll("line").attr("stroke","#000").attr("stroke-width",3);
  yg.selectAll("text").attr("font-family",FONT).attr("font-size",32).attr("fill","#000");

  g.append("text").text("bits").attr("transform",`translate(51,${base-112}) rotate(-90)`)
    .attr("text-anchor","middle").attr("font-family",FONT).attr("font-size",40).attr("fill","#000");
});

svg.append("text").text(footer).attr("x",3732).attr("y",3823).attr("text-anchor","end")
  .attr("font-family",FONT).attr("font-size",25).attr("fill","#000");
</script></body></html>
